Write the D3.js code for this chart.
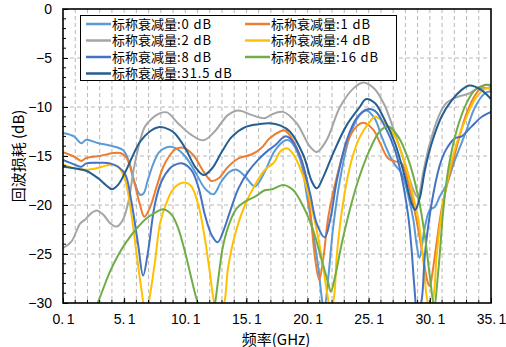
<!DOCTYPE html>
<html><head><meta charset="utf-8">
<script src="https://cdn.jsdelivr.net/npm/d3@7"></script>
<style>body{margin:0;background:#fff}svg{display:block}</style>
</head><body><svg id="c" width="506" height="347"></svg>
<script>
const seriesNames = ["标称衰减量:0 dB","标称衰减量:1 dB","标称衰减量:2 dB","标称衰减量:4 dB","标称衰减量:8 dB","标称衰减量:16 dB","标称衰减量:31.5 dB"];
const seriesColors = ["#5B9BD5","#ED7D31","#A5A5A5","#FFC000","#4472C4","#70AD47","#255E91"];
const xTicks = [0.1,5.1,10.1,15.1,20.1,25.1,30.1,35.1];
const yTicks = [0,-5,-10,-15,-20,-25,-30];
const xTitle = "频率(GHz)";
const yTitle = "回波损耗 (dB)";

// [frequency GHz, return loss dB]
const s0dB = [[0.1,-12.65],[1,-13.0],[1.6,-13.7],[2,-13.35],[3,-13.7],[4,-13.95],[5,-14.4],[5.5,-15.6],[6,-17.9],[6.4,-18.95],[6.7,-18.8],[7,-17.6],[7.5,-15.75],[8,-14.55],[8.8,-14.05],[9.3,-14.2],[10.1,-15.05],[10.9,-16.6],[11.7,-18.3],[12.4,-18.9],[13.05,-17.6],[13.75,-16.6],[14.3,-16.4],[15,-17.1],[15.8,-18.1],[16.6,-16.6],[17.4,-14.5],[18.3,-13.4],[18.7,-13.5],[19.5,-15.4],[20.05,-19.15],[20.6,-23.2],[21.0,-26.6],[21.25,-29.35],[21.45,-30.8],[21.8,-27.3],[22.2,-22.2],[22.75,-17.45],[23.45,-13.4],[24.25,-11.0],[24.9,-10.35],[25.6,-11.2],[26.15,-13.0],[26.85,-15.05],[27.25,-15.9],[27.8,-16.8],[28.35,-19.15],[28.75,-21.5],[29.0,-23.9],[29.25,-25.4],[29.7,-22.2],[30.1,-20.5],[30.5,-20.2],[30.9,-19.15],[31.5,-17.8],[32.15,-15.4],[33.0,-12.7],[33.8,-10.0],[34.6,-8.6],[35.1,-8.4]];
const s1dB = [[0.1,-14.6],[1,-15.05],[1.6,-15.5],[2,-15.2],[3.1,-15.0],[4.2,-14.7],[4.8,-14.7],[5.3,-15.2],[5.85,-17.3],[6.4,-20.0],[6.75,-21.2],[7.2,-20.3],[7.8,-17.95],[8.3,-16.1],[8.85,-14.9],[9.3,-14.3],[9.95,-14.15],[10.75,-14.9],[11.6,-16.6],[12.25,-17.55],[12.8,-17.3],[13.6,-16.1],[14.45,-15.25],[15.5,-14.85],[16.3,-14.2],[17.0,-13.2],[17.85,-12.5],[18.25,-12.4],[18.9,-13.4],[19.75,-16.1],[20.3,-20.5],[20.7,-25.3],[21.05,-27.65],[21.4,-25.3],[21.8,-21.2],[22.5,-17.1],[23.3,-13.7],[24.1,-12.0],[24.65,-11.6],[25.5,-12.35],[26.0,-13.6],[26.7,-15.25],[27.25,-15.55],[27.8,-15.75],[28.35,-17.8],[28.9,-20.85],[29.45,-24.6],[29.95,-28.0],[30.1,-28.3],[30.3,-27.0],[30.65,-23.9],[31.05,-20.5],[31.6,-17.45],[32.3,-14.05],[33.1,-10.65],[33.9,-8.6],[34.6,-7.75],[35.1,-7.9]];
const s2dB = [[0.1,-24.4],[0.8,-23.7],[1.5,-21.9],[1.9,-21.5],[2.4,-20.85],[2.85,-20.55],[3.4,-21.0],[3.95,-21.85],[4.5,-22.2],[5.0,-21.5],[5.45,-19.65],[5.85,-16.6],[6.25,-14.2],[6.8,-12.0],[7.35,-11.2],[8.0,-10.65],[8.6,-10.55],[9.5,-11.65],[10.6,-12.85],[11.6,-13.4],[12.5,-12.5],[13.6,-10.8],[14.45,-10.35],[15.5,-10.8],[16.6,-11.15],[17.1,-10.8],[18.1,-10.5],[19.2,-11.65],[20.3,-14.05],[20.85,-14.6],[21.65,-13.4],[22.75,-10.0],[23.85,-8.1],[24.65,-7.5],[25.55,-8.1],[26.0,-8.9],[26.45,-9.95],[27.25,-12.7],[28.05,-15.75],[28.75,-18.45],[29.1,-19.2],[29.6,-16.4],[30.1,-13.7],[30.8,-11.0],[31.45,-9.6],[32.4,-8.95],[33.25,-8.65],[34.05,-8.1],[35.1,-8.1]];
const s4dB = [[0.1,-15.85],[1,-16.25],[2,-16.4],[3,-16.2],[3.95,-15.9],[4.6,-16.1],[5.15,-17.3],[5.7,-21.0],[6.1,-24.8],[6.5,-28.5],[6.87,-31.2],[7.1,-30.0],[7.62,-25.8],[8.03,-21.9],[8.5,-20.0],[8.99,-18.6],[9.53,-17.9],[10.08,-17.7],[10.6,-18.1],[11.17,-20.0],[11.7,-23.4],[12.1,-26.8],[12.47,-30.0],[12.85,-31.5],[13.29,-30.0],[13.6,-26.4],[14.16,-23.05],[14.98,-20.0],[15.8,-17.96],[16.6,-16.43],[17.4,-15.6],[17.85,-14.55],[18.4,-14.2],[18.9,-14.75],[19.75,-17.1],[20.55,-20.85],[21.25,-25.3],[21.7,-29.0],[22.0,-31.0],[22.3,-29.0],[22.48,-25.3],[23.0,-19.8],[23.7,-15.4],[24.4,-13.0],[25.2,-11.5],[25.6,-11.0],[26.43,-11.66],[27.25,-13.0],[28.07,-15.75],[28.61,-18.47],[29.16,-21.5],[29.56,-25.6],[29.84,-29.35],[30.15,-31.0],[30.45,-28.8],[30.65,-25.3],[31.06,-20.85],[31.6,-17.1],[32.29,-13.7],[33.1,-11.0],[33.93,-8.95],[34.75,-8.1],[35.1,-8.26]];
const s8dB = [[0.1,-15.4],[1,-15.85],[1.6,-16.1],[2,-15.75],[3,-15.7],[3.95,-15.75],[4.6,-16.1],[5.2,-16.9],[5.7,-19.7],[6.25,-24.1],[6.65,-27.2],[7.05,-24.8],[7.6,-20.0],[8.15,-17.6],[8.85,-16.25],[9.25,-15.9],[9.8,-15.75],[10.6,-16.45],[11.2,-18.3],[11.7,-21.0],[12.25,-23.05],[12.75,-23.8],[13.2,-22.7],[13.75,-20.7],[14.45,-18.3],[15.25,-16.6],[16.05,-15.4],[16.9,-14.4],[17.45,-13.9],[18.25,-13.0],[18.65,-13.2],[19.5,-15.05],[20.3,-18.8],[20.85,-21.9],[21.5,-23.3],[21.95,-21.5],[22.5,-17.45],[23.3,-13.4],[24.1,-11.15],[24.95,-10.25],[25.61,-10.4],[26.43,-12.0],[27.25,-14.4],[27.79,-17.1],[28.34,-21.2],[28.61,-24.6],[28.83,-28.3],[29.1,-31.5],[29.45,-29.5],[29.7,-25.0],[30.25,-19.8],[30.9,-16.0],[31.4,-14.4],[32.15,-13.2],[32.7,-13.0],[33.5,-12.0],[34.35,-11.0],[35.1,-10.5]];
const s16dB = [[2.3,-32.1],[2.94,-30.0],[3.4,-28.5],[3.94,-26.8],[4.62,-25.1],[5.3,-23.74],[6.12,-22.4],[6.94,-21.35],[7.76,-20.7],[8.3,-20.44],[8.99,-21.0],[9.53,-22.4],[10.08,-24.8],[10.6,-27.5],[11.0,-29.5],[11.5,-31.5],[11.9,-32.0],[12.25,-31.3],[12.53,-30.0],[12.8,-27.5],[13.2,-24.1],[13.76,-21.7],[14.3,-20.35],[14.98,-19.65],[15.8,-19.15],[16.6,-18.5],[17.2,-18.4],[18.1,-17.95],[18.9,-18.45],[19.75,-20.15],[20.55,-22.55],[21.25,-25.6],[21.8,-28.0],[22.0,-28.85],[22.35,-27.3],[22.9,-23.9],[23.55,-20.5],[24.25,-17.45],[25.05,-14.75],[26.0,-12.5],[26.7,-12.0],[27.5,-13.0],[28.35,-15.4],[29.15,-19.15],[29.7,-23.2],[30.1,-27.3],[30.45,-30.3],[30.8,-26.6],[31.2,-20.5],[31.6,-16.4],[32.3,-12.35],[33.1,-9.6],[33.8,-8.25],[34.6,-7.75],[35.1,-7.75]];
const s31dB = [[0.1,-16.1],[1,-16.25],[2,-16.5],[3,-17.3],[3.6,-17.95],[4.1,-18.4],[4.6,-17.95],[5.15,-16.75],[5.7,-15.25],[6.4,-13.55],[7.2,-12.5],[8.0,-12.05],[8.8,-12.3],[9.25,-12.7],[10.1,-14.2],[10.9,-16.1],[11.6,-16.95],[12.3,-16.25],[13.1,-14.55],[13.9,-13.05],[15.0,-12.05],[16.1,-11.75],[17.0,-11.65],[17.9,-11.9],[18.65,-12.5],[19.75,-14.9],[20.45,-17.6],[20.85,-18.3],[21.4,-17.1],[22.2,-14.7],[23.3,-11.85],[24.4,-9.95],[24.85,-9.2],[25.6,-9.6],[26.4,-11.3],[27.25,-13.7],[28.05,-17.1],[28.6,-19.8],[28.9,-20.5],[29.3,-19.15],[29.7,-16.4],[30.25,-13.7],[31.05,-11.0],[31.9,-9.3],[32.7,-8.25],[33.35,-7.8],[34.3,-8.25],[35.1,-9.2]];
const seriesData = [s0dB,s1dB,s2dB,s4dB,s8dB,s16dB,s31dB];

const W=506,H=347, L=63,R=491,T=9,B=303;
const font = "'Noto Sans CJK SC', 'Noto Sans', sans-serif";
const numFont = "'Liberation Sans', Arial, sans-serif";
const svg = d3.select("#c");
svg.append("rect").attr("width",W).attr("height",H).attr("fill","#fff");
const x = d3.scaleLinear().domain([0.1,35.1]).range([L,R]);
const y = d3.scaleLinear().domain([-30,0]).range([B,T]);

// grid
const g = svg.append("g");
const vGrid = d3.range(1,35).map(k=>0.1+k);
g.selectAll("line.v").data(vGrid).join("line")
  .attr("x1",d=>x(d)).attr("x2",d=>x(d)).attr("y1",T).attr("y2",B)
  .attr("stroke","#b8b8b8").attr("stroke-width",1).attr("stroke-dasharray","4,3");
g.selectAll("line.h").data(yTicks.slice(1,-1)).join("line")
  .attr("x1",L).attr("x2",R).attr("y1",d=>y(d)).attr("y2",d=>y(d))
  .attr("stroke","#b8b8b8").attr("stroke-width",1).attr("stroke-dasharray","4,3");

// lines
svg.append("clipPath").attr("id","clip").append("rect").attr("x",L).attr("y",T).attr("width",R-L).attr("height",B-T);
const line = d3.line().x(d=>x(d[0])).y(d=>y(d[1])).curve(d3.curveCatmullRom.alpha(0.5));
svg.append("g").attr("clip-path","url(#clip)").selectAll("path").data(seriesData).join("path")
  .attr("d",line).attr("fill","none").attr("stroke",(d,i)=>seriesColors[i]).attr("stroke-width",2)
  .attr("stroke-linejoin","round");

// minor ticks (inside)
const minorY = d3.range(-29,0).filter(v=>v%5!==0);
svg.append("g").selectAll("line").data(minorY).join("line")
  .attr("x1",L).attr("x2",L+3).attr("y1",d=>y(d)).attr("y2",d=>y(d)).attr("stroke","#000");
svg.append("g").selectAll("line").data(vGrid).join("line")
  .attr("x1",d=>x(d)).attr("x2",d=>x(d)).attr("y1",B).attr("y2",B-3).attr("stroke","#000");

// axes (major ticks inside)
const yAxis = d3.axisLeft(y).tickValues(yTicks).tickSizeInner(-5).tickSizeOuter(0).tickPadding(11);
const ya = svg.append("g").attr("transform",`translate(${L},0)`).call(yAxis);
const xAxis = d3.axisBottom(x).tickValues(xTicks).tickSizeInner(-5).tickSizeOuter(0).tickPadding(11.5).tickFormat(()=>"");
const xa = svg.append("g").attr("transform",`translate(0,${B})`).call(xAxis);
[ya,xa].forEach(a=>{a.select(".domain").remove();
  a.selectAll("text").attr("font-family",numFont).attr("font-size",14).attr("fill","#000");
  a.selectAll("line").attr("stroke","#000");});
// x tick labels: integer part + "." then the decimal digit with a small gap
xa.selectAll(".tick text").each(function(d){
  const s = d3.format(".1f")(d).split(".");
  const t = d3.select(this);
  t.append("tspan").text(s[0]+".");
  t.append("tspan").attr("dx",2.5).text(s[1]);
});
svg.append("rect").attr("x",L).attr("y",T).attr("width",R-L).attr("height",B-T)
  .attr("fill","none").attr("stroke","#000").attr("stroke-width",1.6);

// titles
svg.append("text").attr("x",276).attr("y",344.5).attr("text-anchor","middle")
  .attr("font-family",font).attr("font-size",15).text(xTitle);
svg.append("text").attr("transform","translate(24,156) rotate(-90)").attr("text-anchor","middle")
  .attr("font-family",font).attr("font-size",15).text(yTitle);

// legend
const lg = svg.append("g");
lg.append("rect").attr("x",80.5).attr("y",15.5).attr("width",316).attr("height",65)
  .attr("fill","#fff").attr("stroke","#000").attr("stroke-width",1);
seriesNames.forEach((n,i)=>{
  const col=i%2,row=Math.floor(i/2);
  const lx=86+col*159, ly=24+row*16.5;
  const k = n.indexOf(":");
  lg.append("line").attr("x1",lx).attr("x2",lx+25).attr("y1",ly).attr("y2",ly)
    .attr("stroke",seriesColors[i]).attr("stroke-width",2.5);
  const t = lg.append("text").attr("x",lx+26).attr("y",ly).attr("dy","0.36em")
    .attr("font-family",font).attr("font-size",13).attr("fill","#000");
  t.append("tspan").text(n.slice(0,k));
  t.append("tspan").attr("letter-spacing",0.9).text(n.slice(k));
});
</script></body></html>
